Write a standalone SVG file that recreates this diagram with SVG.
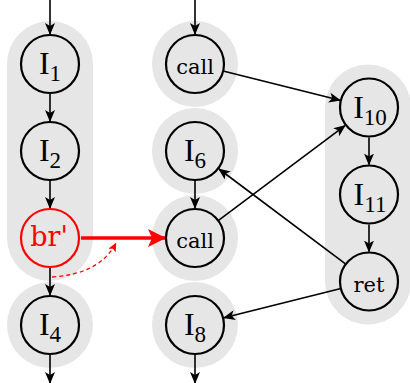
<svg xmlns="http://www.w3.org/2000/svg" width="410" height="383" viewBox="0 0 410 383">
  <style>
    .bg { fill: #e6e6e6; stroke: none; }
    .node { fill: none; stroke: #000; stroke-width: 2.2; }
    .lbl { font-family: 'Liberation Serif', 'Times New Roman', serif; fill: #000; text-anchor: middle; }
    .big { font-size: 32px; }
    .sub { font-size: 23px; }
    .word { font-family: 'DejaVu Serif', 'Liberation Serif', serif; font-size: 21px; }
    .edge { fill: none; stroke: #000; stroke-width: 1.6; marker-end: url(#arrow); }
    .hot { stroke: #ff0000; }
    .hot-text { font-family: 'DejaVu Serif', 'Liberation Serif', serif; fill: #ff0000; font-size: 27px; }
  </style>
  <defs>
    <marker id="arrow" markerUnits="userSpaceOnUse" viewBox="0 0 12 10" refX="11" refY="5" markerWidth="12" markerHeight="10" orient="auto">
      <path d="M0,0 L12,5 L0,10 L3,5 z" fill="#000"/>
    </marker>
    <marker id="arrowRed" markerUnits="userSpaceOnUse" viewBox="0 0 18 18" refX="17" refY="9" markerWidth="18" markerHeight="18" orient="auto">
      <path d="M0,0 L18,9 L0,18 L4,9 z" fill="#ff0000"/>
    </marker>
    <marker id="arrowRedSmall" markerUnits="userSpaceOnUse" viewBox="0 0 9 8" refX="8.5" refY="4" markerWidth="9" markerHeight="8" orient="auto">
      <path d="M0,0 L9,4 L0,8 L2,4 z" fill="#ff0000"/>
    </marker>
  </defs>

  <!-- shaded regions -->
  <g id="regions">
    <rect class="bg" x="7" y="21" width="86" height="260" rx="43" ry="43"/>
    <circle class="bg" cx="50" cy="325" r="43"/>
    <circle class="bg" cx="195" cy="64" r="43"/>
    <circle class="bg" cx="195" cy="151" r="43"/>
    <circle class="bg" cx="195" cy="238" r="43"/>
    <circle class="bg" cx="195" cy="325" r="43"/>
    <rect class="bg" x="325" y="64.5" width="86" height="260" rx="43" ry="43"/>
  </g>

  <!-- connectors -->
  <g id="connectors">
    <line class="edge" x1="50" y1="0" x2="50" y2="34"/>
    <line class="edge" x1="50" y1="94" x2="50" y2="121"/>
    <line class="edge" x1="50" y1="181" x2="50" y2="208"/>
    <line class="edge" x1="50" y1="268" x2="50" y2="295"/>
    <line class="edge" x1="50" y1="355" x2="50" y2="383"/>

    <line class="edge" x1="195" y1="0" x2="195" y2="34"/>
    <line class="edge" x1="195" y1="181" x2="195" y2="208"/>
    <line class="edge" x1="195" y1="355" x2="195" y2="383"/>

    <line class="edge" x1="369" y1="137.5" x2="369" y2="164.5"/>
    <line class="edge" x1="369" y1="224.5" x2="369" y2="251.5"/>

    <line class="edge" x1="223.1" y1="71" x2="340" y2="100.3"/>
    <line class="edge" x1="218.2" y1="220.6" x2="345" y2="125.7"/>
    <line class="edge" x1="345.8" y1="264.1" x2="219" y2="169"/>
    <line class="edge" x1="340.9" y1="288.5" x2="224" y2="317.8"/>

    <line x1="81" y1="238" x2="165" y2="238" stroke="#ff0000" stroke-width="3.5" marker-end="url(#arrowRed)"/>
    <path d="M52,277 Q100,274 116,243" fill="none" stroke="#ff0000" stroke-width="1.3" stroke-dasharray="4,3" marker-end="url(#arrowRedSmall)"/>
  </g>

  <!-- nodes -->
  <g id="n-I1">
    <circle class="node" cx="50" cy="64" r="29"/>
    <text class="lbl big" x="50" y="74">I<tspan class="sub" dy="7">1</tspan></text>
  </g>
  <g id="n-I2">
    <circle class="node" cx="50" cy="151" r="29"/>
    <text class="lbl big" x="50" y="161">I<tspan class="sub" dy="7">2</tspan></text>
  </g>
  <g id="n-br">
    <circle class="node hot" cx="50" cy="238" r="29"/>
    <text class="lbl hot-text" x="49" y="246">br'</text>
  </g>
  <g id="n-I4">
    <circle class="node" cx="50" cy="325" r="29"/>
    <text class="lbl big" x="50" y="335">I<tspan class="sub" dy="7">4</tspan></text>
  </g>

  <g id="n-call1">
    <circle class="node" cx="195" cy="64" r="29"/>
    <text class="lbl word" x="195" y="74">call</text>
  </g>
  <g id="n-I6">
    <circle class="node" cx="195" cy="151" r="29"/>
    <text class="lbl big" x="195" y="161">I<tspan class="sub" dy="7">6</tspan></text>
  </g>
  <g id="n-call2">
    <circle class="node" cx="195" cy="238" r="29"/>
    <text class="lbl word" x="195" y="248">call</text>
  </g>
  <g id="n-I8">
    <circle class="node" cx="195" cy="325" r="29"/>
    <text class="lbl big" x="195" y="335">I<tspan class="sub" dy="7">8</tspan></text>
  </g>

  <g id="n-I10">
    <circle class="node" cx="369" cy="107.5" r="29"/>
    <text class="lbl big" x="370" y="117.5">I<tspan class="sub" dy="7">10</tspan></text>
  </g>
  <g id="n-I11">
    <circle class="node" cx="369" cy="194.5" r="29"/>
    <text class="lbl big" x="370" y="204.5">I<tspan class="sub" dy="7">11</tspan></text>
  </g>
  <g id="n-ret">
    <circle class="node" cx="369" cy="281.5" r="29"/>
    <text class="lbl word" x="369" y="291.5">ret</text>
  </g>
</svg>
